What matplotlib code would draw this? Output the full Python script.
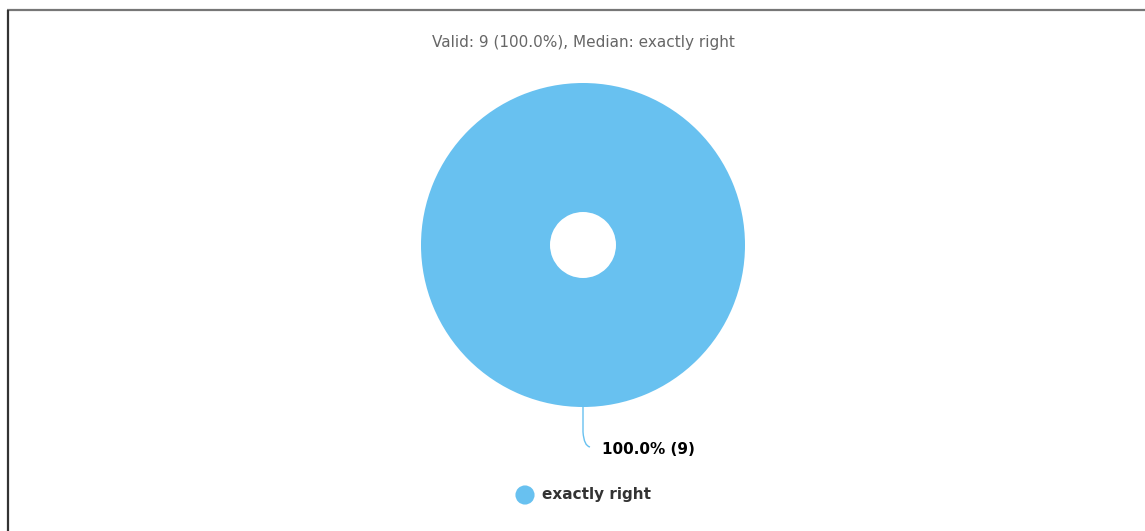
import matplotlib
matplotlib.use('agg')
import matplotlib.pyplot as plt
from matplotlib.path import Path
from matplotlib.patches import PathPatch
from matplotlib.lines import Line2D

plt.rcParams['font.family'] = ['DejaVu Sans']

# data
categories = ['exactly right']
counts = [9]
valid_n = 9
median_label = 'exactly right'

blue = '#68c1f0'
W, H = 1145, 531

fig = plt.figure(figsize=(W / 100, H / 100), dpi=100)
ax = fig.add_axes([0, 0, 1, 1])

total = sum(counts)
cx, cy, r_out, r_in = 583, 245, 162, 33
ax.pie(counts, colors=[blue], center=(cx, cy), radius=r_out, startangle=90,
       counterclock=False, wedgeprops=dict(width=r_out - r_in, edgecolor='none'))
ax.set_xlim(0, W)
ax.set_ylim(H, 0)
ax.set_aspect('auto')
ax.axis('off')

# title
ax.text(cx, 43, f'Valid: {valid_n} ({valid_n / total * 100:.1f}%), Median: {median_label}',
        ha='center', va='center', fontsize=11, color='#666666')

# label with leader line
pct = counts[0] / total * 100
verts = [(cx, cy + r_out), (cx, cy + r_out + 25), (cx + 1, cy + r_out + 39), (cx + 7, cy + r_out + 40)]
codes = [Path.MOVETO, Path.LINETO, Path.CURVE3, Path.CURVE3]
ax.add_patch(PathPatch(Path(verts, codes), fill=False, edgecolor=blue, lw=1))
ax.text(602, 450, f'{pct:.1f}% ({counts[0]})', ha='left', va='center',
        fontsize=11, fontweight='bold', color='black')

# legend
ax.scatter([525], [495], s=190, color=blue, edgecolors='none')
ax.text(542, 495, categories[0], ha='left', va='center', fontsize=11,
        fontweight='bold', color='#333333')

# frame lines
ax.add_line(Line2D([7, W], [9.5, 9.5], color='#777777', lw=1.6, solid_capstyle='butt'))
ax.add_line(Line2D([7.5, 7.5], [10, H], color='#333333', lw=1.6, solid_capstyle='butt'))

fig.savefig('out.png', dpi=100)
